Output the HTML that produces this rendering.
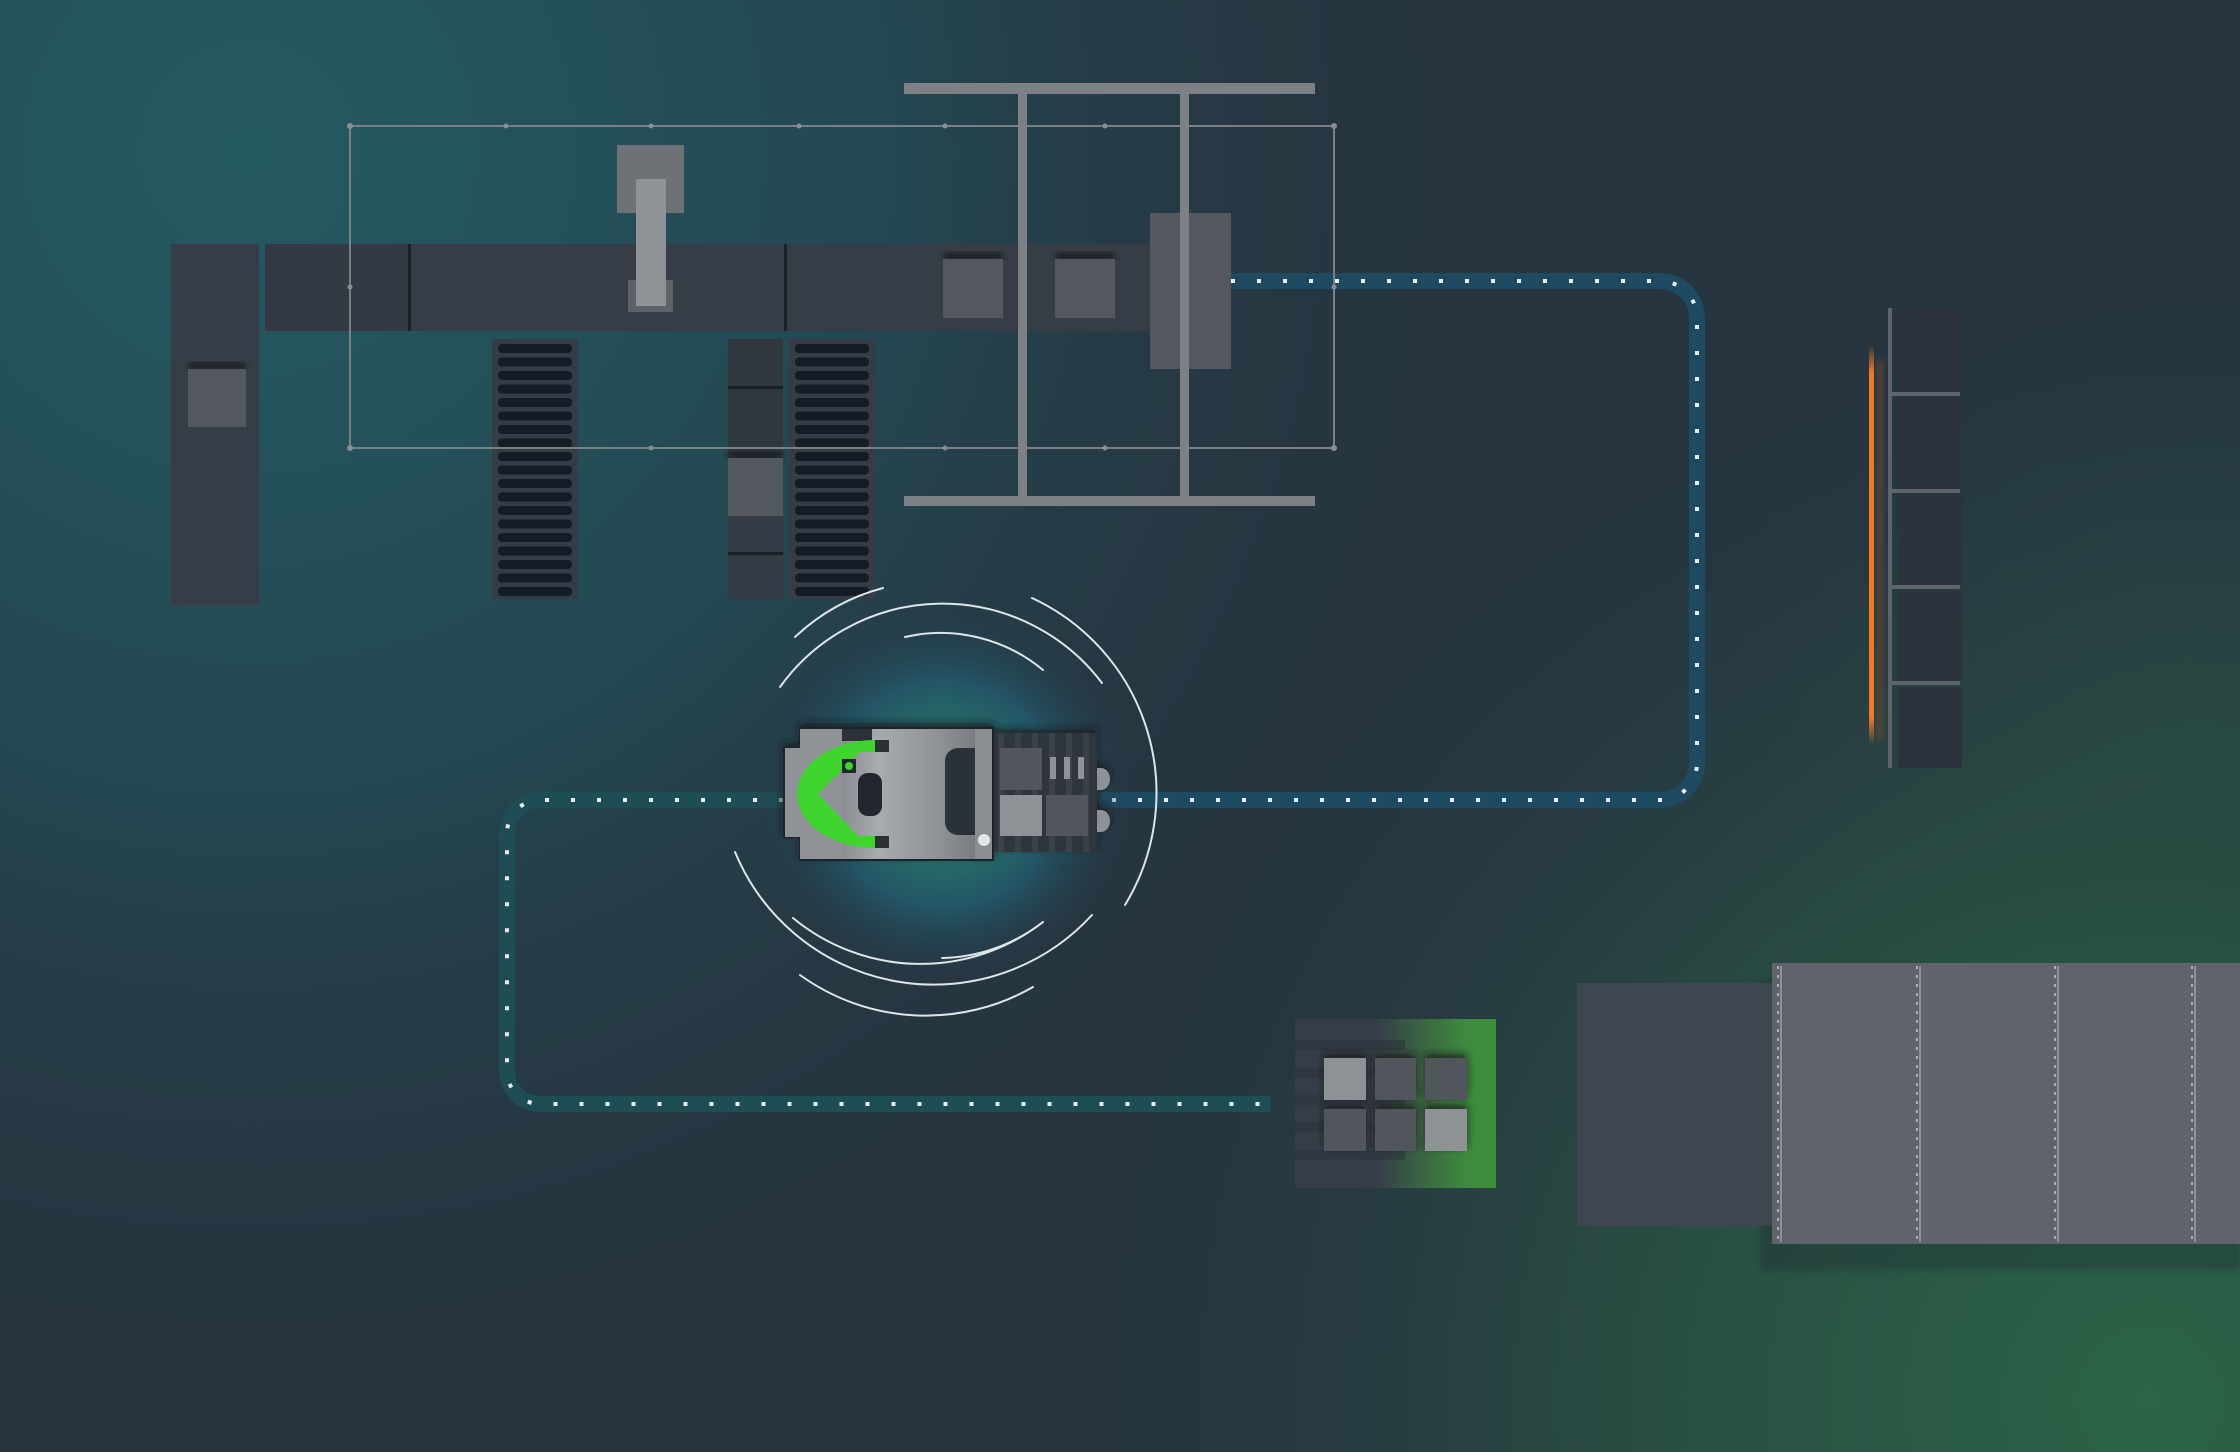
<!DOCTYPE html>
<html><head><meta charset="utf-8"><style>
html,body{margin:0;padding:0;width:2240px;height:1452px;overflow:hidden;background:#263540}
svg{display:block}
</style></head><body>
<svg width="2240" height="1452" viewBox="0 0 2240 1452" xmlns="http://www.w3.org/2000/svg">
<defs>
<radialGradient id="bg1" cx="250" cy="150" r="1250" gradientUnits="userSpaceOnUse">
<stop offset="0" stop-color="#245a62"/><stop offset="0.5" stop-color="#244852"/><stop offset="1" stop-color="#263540" stop-opacity="0"/></radialGradient>
<radialGradient id="bg2" cx="2150" cy="1400" r="1100" gradientUnits="userSpaceOnUse">
<stop offset="0" stop-color="#2b6448"/><stop offset="0.5" stop-color="#294b42"/><stop offset="1" stop-color="#263540" stop-opacity="0"/></radialGradient>
<radialGradient id="bg3" cx="2200" cy="800" r="550" gradientUnits="userSpaceOnUse">
<stop offset="0" stop-color="#2a5548"/><stop offset="1" stop-color="#263540" stop-opacity="0"/></radialGradient>
<radialGradient id="glow" cx="943" cy="795" r="190" gradientUnits="userSpaceOnUse">
<stop offset="0" stop-color="#2a7068"/><stop offset="0.3" stop-color="#277068"/><stop offset="0.6" stop-color="#235566"/><stop offset="1" stop-color="#263a48" stop-opacity="0"/></radialGradient>
<linearGradient id="body" x1="0" x2="1" y1="0" y2="0">
<stop offset="0" stop-color="#5b5f66"/><stop offset="0.45" stop-color="#a7aaae"/><stop offset="0.75" stop-color="#8e9196"/><stop offset="1" stop-color="#6d7177"/></linearGradient>
<linearGradient id="pal" x1="0" x2="1" y1="0" y2="0">
<stop offset="0" stop-color="#353d48"/><stop offset="0.4" stop-color="#353d48"/><stop offset="0.85" stop-color="#3e8a3e"/><stop offset="1" stop-color="#3d8f3a"/></linearGradient>
<linearGradient id="orange" x1="0" x2="0" y1="0" y2="1">
<stop offset="0" stop-color="#f07a2a" stop-opacity="0"/><stop offset="0.07" stop-color="#f07a2a"/><stop offset="0.93" stop-color="#f07a2a"/><stop offset="1" stop-color="#f07a2a" stop-opacity="0"/></linearGradient>
<filter id="sh" x="-30%" y="-30%" width="160%" height="160%"><feDropShadow dx="0" dy="-4" stdDeviation="4" flood-color="#15181d" flood-opacity="0.8"/></filter>
<filter id="blur"><feGaussianBlur stdDeviation="3"/></filter>
</defs>
<rect width="2240" height="1452" fill="#263540"/>
<rect width="2240" height="1452" fill="url(#bg1)"/>
<rect width="2240" height="1452" fill="url(#bg3)"/>
<rect width="2240" height="1452" fill="url(#bg2)"/>

<path d="M1231,281 H1660 A37,37 0 0 1 1697,318 V763 A37,37 0 0 1 1660,800 H1100" fill="none" stroke="#1e4a62" stroke-width="16"/>
<path d="M1231,281 H1660 A37,37 0 0 1 1697,318 V763 A37,37 0 0 1 1660,800 H1100" fill="none" stroke="#e8eef0" stroke-width="4" stroke-dasharray="4 22"/>
<path d="M783,800 H540 A33,33 0 0 0 507,833 V1071 A33,33 0 0 0 540,1104 H1271" fill="none" stroke="#1f4d54" stroke-width="16"/>
<path d="M783,800 H540 A33,33 0 0 0 507,833 V1071 A33,33 0 0 0 540,1104 H1271" fill="none" stroke="#e8eef0" stroke-width="4" stroke-dasharray="4 22"/>

<rect x="171" y="244" width="88" height="361" fill="#373d47"/>
<rect x="188" y="362" width="58" height="8" fill="#1c2027" filter="url(#blur)"/>
<rect x="188" y="369" width="58" height="58" fill="#53575e"/>
<rect x="265" y="244" width="892" height="87" fill="#373d47"/>
<rect x="265" y="244" width="145" height="87" fill="#343a44"/>
<rect x="408" y="244" width="3" height="87" fill="#1c2128"/>
<rect x="784" y="244" width="3" height="87" fill="#1c2128"/>
<rect x="943" y="252" width="60" height="8" fill="#1c2027" filter="url(#blur)"/>
<rect x="943" y="259" width="60" height="59" fill="#53575e"/>
<rect x="1055" y="252" width="60" height="8" fill="#1c2027" filter="url(#blur)"/>
<rect x="1055" y="259" width="60" height="59" fill="#53575e"/>
<rect x="1150" y="213" width="81" height="156" fill="#55585f"/>
<rect x="617" y="145" width="67" height="68" fill="#6e7277"/>
<rect x="628" y="280" width="45" height="32" fill="#5e6268"/>
<rect x="636" y="179" width="30" height="127" fill="#8f9297"/>

<rect x="492" y="339" width="86" height="260" fill="#363c46"/>
<rect x="789" y="339" width="86" height="260" fill="#363c46"/>
<g fill="#161c26">
<rect x="498" y="344" width="74" height="9" rx="4"/><rect x="498" y="357.5" width="74" height="9" rx="4"/><rect x="498" y="371" width="74" height="9" rx="4"/><rect x="498" y="384.5" width="74" height="9" rx="4"/><rect x="498" y="398" width="74" height="9" rx="4"/><rect x="498" y="411.5" width="74" height="9" rx="4"/><rect x="498" y="425" width="74" height="9" rx="4"/><rect x="498" y="438.5" width="74" height="9" rx="4"/><rect x="498" y="452" width="74" height="9" rx="4"/><rect x="498" y="465.5" width="74" height="9" rx="4"/><rect x="498" y="479" width="74" height="9" rx="4"/><rect x="498" y="492.5" width="74" height="9" rx="4"/><rect x="498" y="506" width="74" height="9" rx="4"/><rect x="498" y="519.5" width="74" height="9" rx="4"/><rect x="498" y="533" width="74" height="9" rx="4"/><rect x="498" y="546.5" width="74" height="9" rx="4"/><rect x="498" y="560" width="74" height="9" rx="4"/><rect x="498" y="573.5" width="74" height="9" rx="4"/><rect x="498" y="587" width="74" height="9" rx="4"/>
<rect x="795" y="344" width="74" height="9" rx="4"/><rect x="795" y="357.5" width="74" height="9" rx="4"/><rect x="795" y="371" width="74" height="9" rx="4"/><rect x="795" y="384.5" width="74" height="9" rx="4"/><rect x="795" y="398" width="74" height="9" rx="4"/><rect x="795" y="411.5" width="74" height="9" rx="4"/><rect x="795" y="425" width="74" height="9" rx="4"/><rect x="795" y="438.5" width="74" height="9" rx="4"/><rect x="795" y="452" width="74" height="9" rx="4"/><rect x="795" y="465.5" width="74" height="9" rx="4"/><rect x="795" y="479" width="74" height="9" rx="4"/><rect x="795" y="492.5" width="74" height="9" rx="4"/><rect x="795" y="506" width="74" height="9" rx="4"/><rect x="795" y="519.5" width="74" height="9" rx="4"/><rect x="795" y="533" width="74" height="9" rx="4"/><rect x="795" y="546.5" width="74" height="9" rx="4"/><rect x="795" y="560" width="74" height="9" rx="4"/><rect x="795" y="573.5" width="74" height="9" rx="4"/><rect x="795" y="587" width="74" height="9" rx="4"/>
</g>
<rect x="728" y="339" width="55" height="260" fill="#363c46"/>
<rect x="728" y="339" width="55" height="120" fill="#31373f"/>
<rect x="728" y="386" width="55" height="3" fill="#1a1f26"/>
<rect x="728" y="552" width="55" height="3" fill="#1a1f26"/>
<rect x="728" y="451" width="55" height="8" fill="#1c2027" filter="url(#blur)"/>
<rect x="728" y="458" width="55" height="58" fill="#53575e"/>

<rect x="350" y="126" width="984" height="322" stroke="#7a7f84" stroke-width="2" fill="none"/>
<g fill="#8a8e92">
<circle cx="350" cy="126" r="3"/><circle cx="506" cy="126" r="2.5"/><circle cx="651" cy="126" r="2.5"/><circle cx="799" cy="126" r="2.5"/><circle cx="945" cy="126" r="2.5"/><circle cx="1105" cy="126" r="2.5"/><circle cx="1334" cy="126" r="3"/>
<circle cx="350" cy="448" r="3"/><circle cx="651" cy="448" r="2.5"/><circle cx="945" cy="448" r="2.5"/><circle cx="1105" cy="448" r="2.5"/><circle cx="1334" cy="448" r="3"/>
<circle cx="350" cy="287" r="2.5"/><circle cx="1334" cy="287" r="2.5"/>
</g>
<g fill="#7d8084">
<rect x="904" y="83" width="411" height="11"/>
<rect x="904" y="496" width="411" height="10"/>
<rect x="1018" y="90" width="9" height="410"/>
<rect x="1180" y="90" width="9" height="410"/>
</g>

<g fill="#2d333d">
<rect x="1898" y="308" width="64" height="84"/><rect x="1898" y="398" width="64" height="91"/><rect x="1898" y="495" width="64" height="90"/><rect x="1898" y="591" width="64" height="90"/><rect x="1898" y="687" width="64" height="81"/>
</g>
<g fill="#5e646b">
<rect x="1888" y="308" width="4" height="460"/>
<rect x="1890" y="392" width="70" height="4"/><rect x="1890" y="489" width="70" height="4"/><rect x="1890" y="585" width="70" height="4"/><rect x="1890" y="681" width="70" height="4"/>
</g>
<rect x="1876" y="360" width="8" height="380" fill="#7a4a2a" opacity="0.5" filter="url(#blur)"/>
<rect x="1869" y="345" width="5" height="400" fill="url(#orange)"/>

<rect x="1295" y="1019" width="201" height="169" fill="url(#pal)"/>
<g fill="#2c323b" opacity="0.5">
<rect x="1295" y="1040" width="110" height="10"/><rect x="1295" y="1068" width="110" height="10"/><rect x="1295" y="1095" width="110" height="10"/><rect x="1295" y="1122" width="110" height="10"/><rect x="1295" y="1150" width="110" height="10"/>
</g>
<g filter="url(#sh)">
<rect x="1324" y="1058" width="42" height="42" fill="#8e9196"/><rect x="1375" y="1058" width="41" height="42" fill="#51555c"/><rect x="1425" y="1058" width="42" height="42" fill="#51555c"/>
<rect x="1324" y="1109" width="42" height="42" fill="#51555c"/><rect x="1375" y="1109" width="41" height="42" fill="#51555c"/><rect x="1425" y="1109" width="42" height="42" fill="#8e9196"/>
</g>

<rect x="1760" y="980" width="480" height="290" fill="#1c2a30" opacity="0.35" filter="url(#blur)"/>
<rect x="1577" y="983" width="195" height="243" fill="#40464f"/>
<rect x="1772" y="963" width="468" height="281" fill="#5f636b"/>
<g stroke="#c5c8cc" stroke-width="1.5" stroke-dasharray="3 6">
<line x1="1778" y1="966" x2="1778" y2="1242"/><line x1="1917" y1="966" x2="1917" y2="1242"/><line x1="2055" y1="966" x2="2055" y2="1242"/><line x1="2192" y1="966" x2="2192" y2="1242"/>
</g>
<g stroke="#9ea2a6" stroke-width="1.5">
<line x1="1781" y1="966" x2="1781" y2="1242"/><line x1="1920" y1="966" x2="1920" y2="1242"/><line x1="2058" y1="966" x2="2058" y2="1242"/><line x1="2195" y1="966" x2="2195" y2="1242"/>
</g>

<circle cx="943" cy="795" r="190" fill="url(#glow)"/>
<g fill="none" stroke="#dfe6e8" stroke-width="2" stroke-linecap="round">
<path d="M780,687 A200,200 0 0 1 1102,683"/>
<path d="M795,637 A205,205 0 0 1 883,588"/>
<path d="M1032,598 A215,215 0 0 1 1125,905"/>
<path d="M905,637 A160,160 0 0 1 1043,670"/>
<path d="M735,852 A215,215 0 0 0 1092,915"/>
<path d="M793,918 A200,200 0 0 0 1043,922"/>
<path d="M942,958 A170,170 0 0 0 1043,922"/>
<path d="M800,975 A215,215 0 0 0 1033,987"/>
</g>

<g filter="url(#sh)">
<rect x="993" y="733" width="104" height="119" fill="#2f353e"/>
<g fill="#3b414a"><rect x="998" y="733" width="6" height="119"/><rect x="1015" y="733" width="6" height="119"/><rect x="1032" y="733" width="6" height="119"/><rect x="1049" y="733" width="6" height="119"/><rect x="1066" y="733" width="6" height="119"/><rect x="1083" y="733" width="6" height="119"/></g>
<path d="M1097,768 h4 a9,11 0 0 1 0,22 h-4z M1097,810 h4 a9,11 0 0 1 0,22 h-4z" fill="#8e9196"/>
<rect x="1000" y="748" width="42" height="42" fill="#51555c"/>
<rect x="1050" y="757" width="6" height="22" fill="#8e9196"/><rect x="1064" y="757" width="6" height="22" fill="#8e9196"/><rect x="1078" y="757" width="6" height="22" fill="#8e9196"/>
<rect x="1000" y="795" width="42" height="41" fill="#8e9196"/>
<rect x="1046" y="795" width="42" height="41" fill="#51555c"/>
<path d="M800,728 H993 V860 H800 V837 H784 V748 H800 Z" fill="url(#body)" stroke="#1f242a" stroke-width="2"/>
<path d="M800,729 H842 V859 H800 V837 H785 V748 H800 Z" fill="#8f9297"/>
<rect x="842" y="729" width="30" height="12" fill="#2a3038"/>
<rect x="975" y="729" width="17" height="130" fill="#8a8d92"/>
<path d="M958,748 H975 V835 H958 A13,13 0 0 1 945,822 V761 A13,13 0 0 1 958,748Z" fill="#2a3038"/>
<circle cx="984" cy="840" r="6" fill="#e3e6e8"/>
<rect x="875" y="740" width="14" height="12" fill="#2a3038"/>
<rect x="875" y="836" width="14" height="12" fill="#2a3038"/>
<path d="M875,740 A78,54 0 0 0 875,848 L875,836 L858,836 L818,794 L860,752 L875,752 Z" fill="#3fd42f"/>
<rect x="842" y="759" width="14" height="14" fill="#20262d"/>
<circle cx="849" cy="766" r="4" fill="#3fd42f"/>
<rect x="858" y="773" width="24" height="43" rx="10" fill="#20262d"/>
</g>
</svg>
</body></html>
